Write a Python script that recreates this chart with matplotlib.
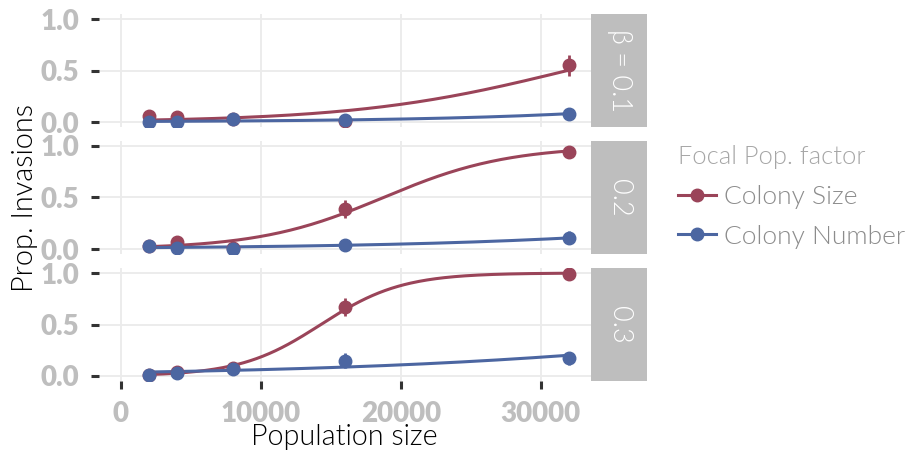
import numpy as np
import matplotlib
matplotlib.use("Agg")
import matplotlib.pyplot as plt
from matplotlib.lines import Line2D

plt.rcParams['font.family'] = ['Lato', 'DejaVu Sans']

# population sizes tested
pop = np.array([2000, 4000, 8000, 16000, 32000])
betas = ['β = 0.1', '0.2', '0.3']

# proportion of invasions (mean) and error half-widths, per beta
size_mean = [
    [0.06, 0.05, 0.025, 0.01, 0.55],
    [0.03, 0.065, 0.01, 0.39, 0.945],
    [0.01, 0.04, 0.075, 0.67, 0.99],
]
size_err = [
    [0.02, 0.02, 0.01, 0.01, 0.10],
    [0.015, 0.025, 0.01, 0.09, 0.02],
    [0.01, 0.02, 0.025, 0.09, 0.01],
]
number_mean = [
    [0.0, 0.0, 0.025, 0.02, 0.078],
    [0.03, 0.013, 0.0, 0.04, 0.11],
    [0.01, 0.025, 0.07, 0.15, 0.17],
]
number_err = [
    [0.0, 0.0, 0.015, 0.015, 0.03],
    [0.015, 0.01, 0.0, 0.02, 0.06],
    [0.01, 0.015, 0.025, 0.07, 0.06],
]

series = ['Colony Size', 'Colony Number']
colors = ['#9A4459', '#4C66A1']
grey = '#BEBEBE'
LIGHT = 300


def glm_logit(x, p, iters=60):
    # binomial glm (logit link) fitted by IRLS
    X = np.column_stack([np.ones_like(x), x / 1000.0])
    b = np.zeros(2)
    for _ in range(iters):
        eta = X @ b
        mu = 1 / (1 + np.exp(-eta))
        w = np.clip(mu * (1 - mu), 1e-9, None)
        z = eta + (p - mu) / w
        b = np.linalg.solve(X.T @ (w[:, None] * X), X.T @ (w * z))
    return b


W, H = 905, 455
fig = plt.figure(figsize=(W / 100, H / 100), dpi=100)

left, right = 98.6, 591.0
tops = [13.85, 140.85, 267.85]
ph = 113.3
strip_w = 56

xs = np.linspace(pop.min(), pop.max(), 200)
axes = []
for i in range(3):
    ax = fig.add_axes([left / W, 1 - (tops[i] + ph) / H, (right - left) / W, ph / H])
    axes.append(ax)
    ax.set_xlim(-1600, 33600)
    ax.set_ylim(-0.05, 1.05)
    ax.set_xticks([0, 10000, 20000, 30000])
    ax.set_yticks([0, 0.5, 1.0])
    ax.set_yticklabels(['0.0', '0.5', '1.0'])
    ax.grid(True, color='#EBEBEB', lw=1.3)
    ax.set_axisbelow(True)
    for s in ax.spines.values():
        s.set_visible(False)
    ax.tick_params(axis='both', length=6, width=2.2, color='#333333',
                   labelcolor=grey, labelsize=20, pad=8)
    for lab in ax.get_yticklabels() + ax.get_xticklabels():
        lab.set_fontweight('heavy')
    if i < 2:
        ax.tick_params(axis='x', bottom=False, labelbottom=False)

    data = [(size_mean[i], size_err[i]), (number_mean[i], number_err[i])]
    for (m, e), c in zip(data, colors):
        m = np.array(m)
        b = glm_logit(pop.astype(float), m)
        ax.plot(xs, 1 / (1 + np.exp(-(b[0] + b[1] * xs / 1000))), color=c, lw=2.2, zorder=3)
        ax.errorbar(pop, m, yerr=e, fmt='o', color=c, ms=9, elinewidth=2, capsize=0, zorder=4)

    # facet strip on the right
    sax = fig.add_axes([right / W, 1 - (tops[i] + ph) / H, strip_w / W, ph / H])
    sax.set_facecolor(grey)
    sax.set_xticks([])
    sax.set_yticks([])
    for s in sax.spines.values():
        s.set_visible(False)
    sax.text(0.5, 0.5, betas[i], rotation=-90, ha='center', va='center', color='white',
             fontsize=19.5, fontweight=LIGHT, transform=sax.transAxes)

fig.text(25 / W, 1 - 197.5 / H, 'Prop. Invasions', rotation=90, ha='center', va='center',
         fontsize=20.8, fontweight=LIGHT)
fig.text((left + right) / 2 / W, 1 - 437 / H, 'Population size', ha='center', va='center',
         fontsize=20.7, fontweight=LIGHT)

handles = [Line2D([], [], color=c, lw=2.2, marker='o', ms=9) for c in colors]
leg = fig.legend(handles, series, title='Focal Pop. factor', loc='upper left',
                 bbox_to_anchor=(678 / W, 1 - 145 / H), frameon=False, alignment='left',
                 prop={'size': 19, 'weight': LIGHT}, title_fontproperties={'size': 18.4, 'weight': LIGHT},
                 handlelength=1.45, handletextpad=0.3, labelspacing=0.6, borderaxespad=0,
                 borderpad=0)
leg.get_title().set_color('#A6A6A6')
for t in leg.get_texts():
    t.set_color('#8C8C8C')

fig.savefig('out.png', dpi=100)
